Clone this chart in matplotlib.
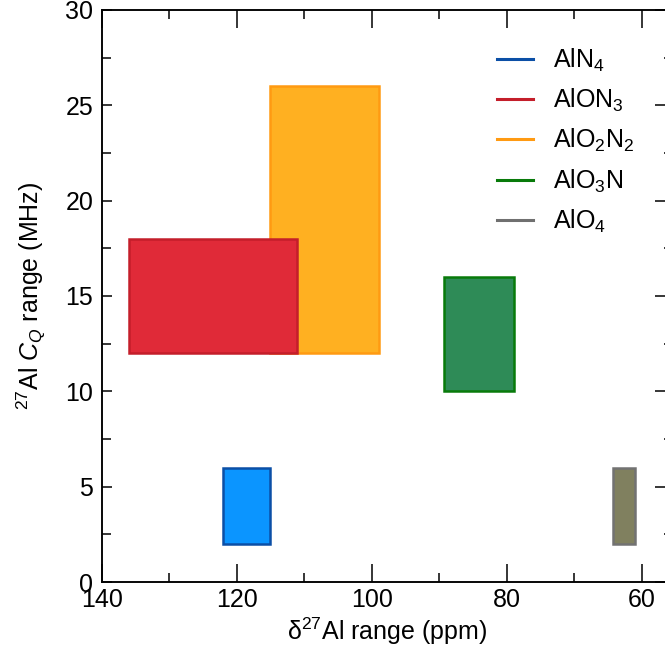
import numpy as np
import matplotlib
matplotlib.use("Agg")
import matplotlib.pyplot as plt
from matplotlib.patches import Rectangle
from matplotlib.lines import Line2D
from matplotlib.ticker import MultipleLocator

plt.rcParams['font.family'] = ['Liberation Sans', 'DejaVu Sans']
plt.rcParams['mathtext.fontset'] = 'custom'
plt.rcParams['mathtext.rm'] = 'Liberation Sans'
plt.rcParams['mathtext.it'] = 'Liberation Sans:italic'
plt.rcParams['mathtext.bf'] = 'Liberation Sans:bold'

# Bereiche: delta (ppm) und C_Q (MHz)
labels = ['AlN$_4$', 'AlON$_3$', 'AlO$_2$N$_2$', 'AlO$_3$N', 'AlO$_4$']
delta_min = [115, 111, 99, 79, 61]
delta_max = [122, 136, 115, 89.3, 64.3]
cq_min = [2, 12, 12, 10, 2]
cq_max = [6, 18, 26, 16, 6]
fill_colors = ['#0b95ff', '#e02a38', '#ffb021', '#2e8b57', '#80805f']
edge_colors = ['#0b4fa6', '#c41e2a', '#ff9a12', '#087a0a', '#727272']
legend_colors = ['#0b4fa6', '#c41e2a', '#ff9a12', '#087a0a', '#707070']
draw_order = [2, 1, 0, 3, 4]  # rot liegt ueber orange

fs = 18

fig = plt.figure(figsize=(6.65, 6.61), dpi=100)
ax = fig.add_axes([0.1529, 0.1195, 0.859, 0.8654])

for z, i in enumerate(draw_order):
    r = Rectangle((delta_min[i], cq_min[i]), delta_max[i] - delta_min[i],
                  cq_max[i] - cq_min[i], facecolor=fill_colors[i],
                  edgecolor=edge_colors[i], linewidth=1.8, zorder=2 + z)
    ax.add_patch(r)

ax.set_xlim(140, 55.4)
ax.set_ylim(0, 30)
ax.xaxis.set_major_locator(MultipleLocator(20))
ax.xaxis.set_minor_locator(MultipleLocator(10))
ax.yaxis.set_major_locator(MultipleLocator(5))
ax.yaxis.set_minor_locator(MultipleLocator(2.5))

ax.tick_params(axis='x', which='both', direction='in', top=True, bottom=True,
               width=1.1, labelsize=fs, pad=4)
ax.tick_params(axis='x', which='major', length=13.3)
ax.tick_params(axis='x', which='minor', length=6.8)
ax.tick_params(axis='y', which='both', direction='in', left=True, right=False,
               width=1.1, labelsize=fs, pad=6)
ax.tick_params(axis='y', which='major', length=7.5)
ax.tick_params(axis='y', which='minor', length=6.2)
for s in ax.spines.values():
    s.set_linewidth(1.1)

# rechte Achse mit laengeren Ticks
ax2 = ax.twinx()
ax2.set_ylim(0, 30)
ax2.yaxis.set_major_locator(MultipleLocator(5))
ax2.yaxis.set_minor_locator(MultipleLocator(2.5))
ax2.tick_params(axis='y', which='both', direction='in', labelright=False, width=1.1)
ax2.tick_params(axis='y', which='major', length=13.3)
ax2.tick_params(axis='y', which='minor', length=6.8)
for s in ax2.spines.values():
    s.set_linewidth(1.1)

ax.set_xlabel('δ$^{27}$Al range (ppm)', fontsize=fs, labelpad=3)
ax.set_ylabel('$^{27}$Al $C_Q$ range (MHz)', fontsize=fs)
ax.yaxis.set_label_coords(-0.094, 0.5)

handles = [Line2D([0], [0], color=c, lw=2.2) for c in legend_colors]
ax.legend(handles, labels, loc='upper right', bbox_to_anchor=(0.972, 0.975),
          frameon=False, fontsize=fs, handlelength=1.45, handletextpad=0.8,
          labelspacing=0.52)

fig.savefig('out.png', dpi=100)
